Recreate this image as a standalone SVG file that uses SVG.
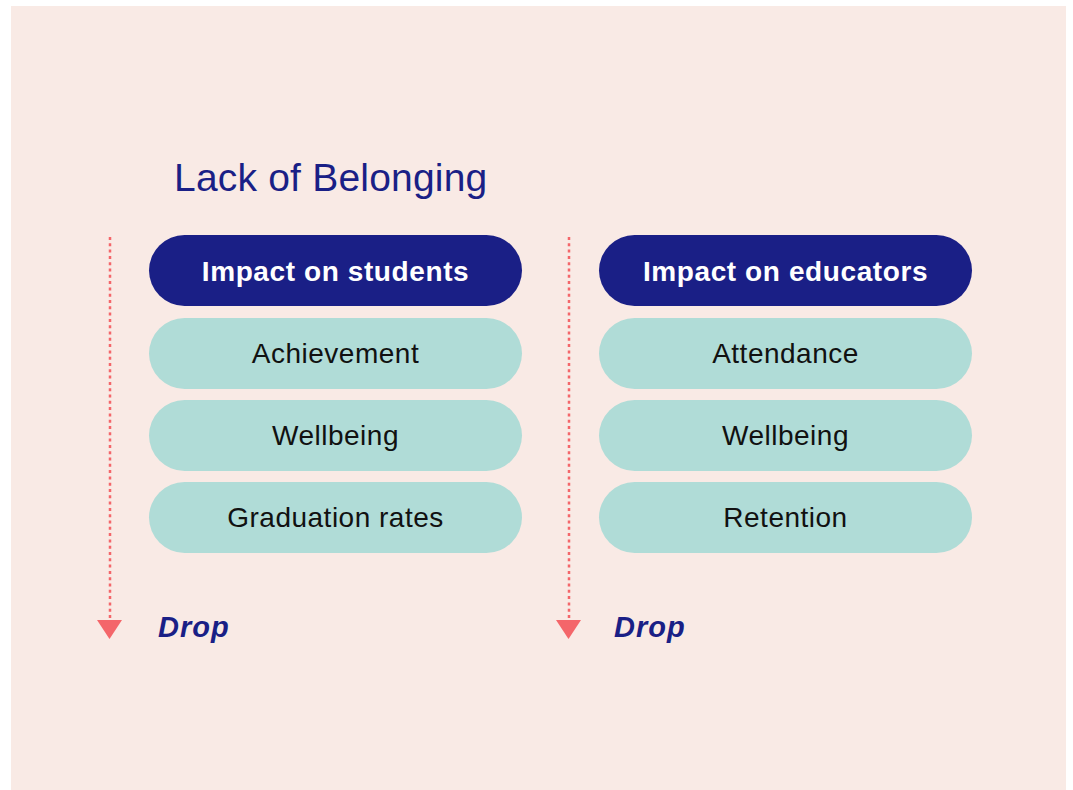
<svg xmlns="http://www.w3.org/2000/svg" width="1073" height="790" viewBox="0 0 1073 790">
<style>
.head{fill:#1A1F86}
.item{fill:#B0DCD7}
.ht{font-family:"Liberation Sans",Arial,sans-serif;font-weight:bold;font-size:28px;fill:#FFFFFF;text-anchor:middle;letter-spacing:0.6px}
.it{font-family:"Liberation Sans",Arial,sans-serif;font-size:28px;fill:#111111;text-anchor:middle;letter-spacing:0.5px}
.title{font-family:"Liberation Sans",Arial,sans-serif;font-size:39px;fill:#1A1F86;letter-spacing:0.2px}
.drop{font-family:"Liberation Sans",Arial,sans-serif;font-style:italic;font-weight:bold;font-size:29px;fill:#1A1F86;letter-spacing:1px}
.dot{stroke:#F4666A;stroke-width:2.5;stroke-dasharray:3 3.3;fill:none}
.tip{fill:#F4666A}
</style>
<rect x="11" y="6" width="1055" height="784" fill="#F9EAE5"/>
<text class="title" x="174" y="191">Lack of Belonging</text>
<g id="connectors">
<line class="dot" x1="110" y1="237" x2="110" y2="621"/>
<polygon class="tip" points="97,620 122,620 109.5,639"/>
<line class="dot" x1="569" y1="237" x2="569" y2="621"/>
<polygon class="tip" points="556,620 581,620 568.5,639"/>
</g>
<g id="students-head"><rect class="head" x="149" y="235" width="373" height="71" rx="35.5"/><text class="ht" x="335.5" y="280.5">Impact on students</text></g>
<g id="achievement"><rect class="item" x="149" y="318" width="373" height="71" rx="35.5"/><text class="it" x="335.5" y="363">Achievement</text></g>
<g id="wellbeing-s"><rect class="item" x="149" y="400" width="373" height="71" rx="35.5"/><text class="it" x="335.5" y="445">Wellbeing</text></g>
<g id="graduation"><rect class="item" x="149" y="482" width="373" height="71" rx="35.5"/><text class="it" x="335.5" y="527">Graduation rates</text></g>
<g id="educators-head"><rect class="head" x="599" y="235" width="373" height="71" rx="35.5"/><text class="ht" x="785.5" y="280.5">Impact on educators</text></g>
<g id="attendance"><rect class="item" x="599" y="318" width="373" height="71" rx="35.5"/><text class="it" x="785.5" y="363">Attendance</text></g>
<g id="wellbeing-e"><rect class="item" x="599" y="400" width="373" height="71" rx="35.5"/><text class="it" x="785.5" y="445">Wellbeing</text></g>
<g id="retention"><rect class="item" x="599" y="482" width="373" height="71" rx="35.5"/><text class="it" x="785.5" y="527">Retention</text></g>
<text class="drop" x="158" y="637">Drop</text>
<text class="drop" x="614" y="637">Drop</text>
</svg>
